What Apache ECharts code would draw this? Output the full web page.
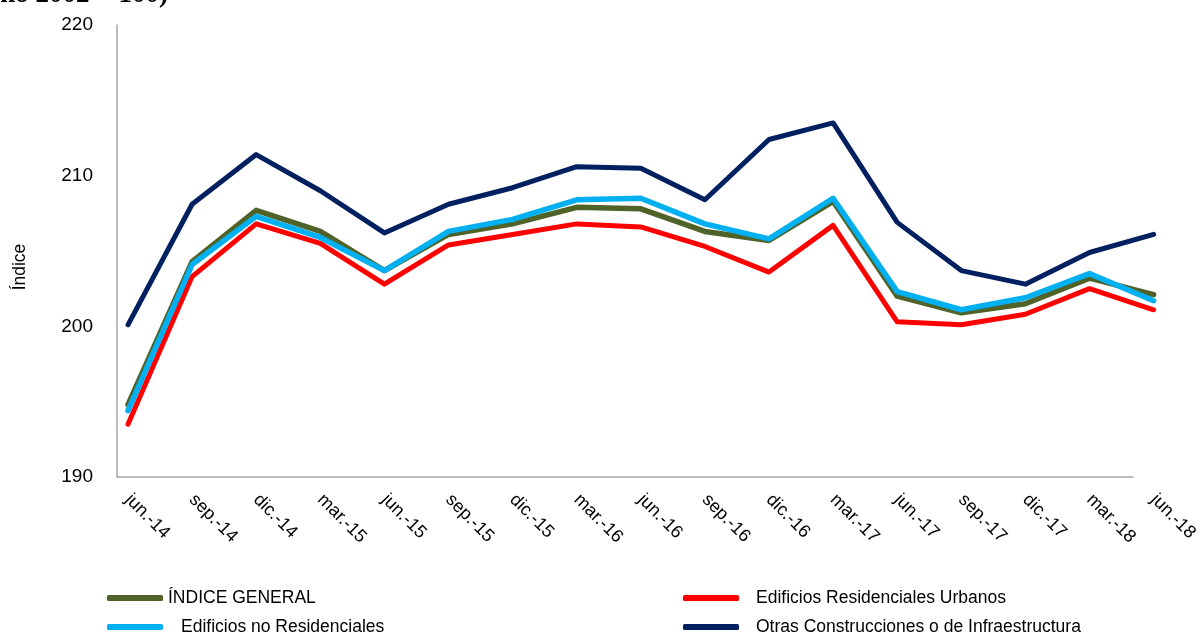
<!DOCTYPE html>
<html>
<head>
<meta charset="utf-8">
<script src="https://cdn.jsdelivr.net/npm/echarts@6/dist/echarts.min.js"></script>
<style>
html,body{margin:0;padding:0;background:#fff;}
#chart{width:1201px;height:635px;}
</style>
</head>
<body>
<div id="chart"></div>
<script>
const categories = ['jun.-14','sep.-14','dic.-14','mar.-15','jun.-15','sep.-15','dic.-15','mar.-16','jun.-16','sep.-16','dic.-16','mar.-17','jun.-17','sep.-17','dic.-17','mar.-18','jun.-18'];
const indiceGeneral = [194.8,204.3,207.7,206.3,203.7,206.1,206.8,207.9,207.8,206.3,205.7,208.3,202.0,200.9,201.5,203.2,202.1];
const residencialesUrbanos = [193.5,203.3,206.8,205.5,202.8,205.4,206.1,206.8,206.6,205.3,203.6,206.7,200.3,200.1,200.8,202.5,201.1];
const noResidenciales = [194.4,204.1,207.3,205.9,203.7,206.3,207.1,208.4,208.5,206.8,205.8,208.5,202.3,201.1,201.9,203.5,201.7];
const otrasConstrucciones = [200.1,208.1,211.4,209.0,206.2,208.1,209.2,210.6,210.5,208.4,212.4,213.5,206.9,203.7,202.8,204.9,206.1];
const seriesNames = ['ÍNDICE GENERAL','Edificios Residenciales Urbanos','Edificios no Residenciales','Otras Construcciones o de Infraestructura'];
const yMin = 190, yMax = 220, yStep = 10;

const font = '"Liberation Sans", Arial, sans-serif';
const chart = echarts.init(document.getElementById('chart'));

function mkSeries(name, data, color, width, z) {
  return {
    name: name, type: 'line', data: data, xAxisIndex: 1, yAxisIndex: 1,
    symbol: 'none', z: z, clip: false,
    lineStyle: {color: color, width: width, cap: 'round', join: 'round'},
    itemStyle: {color: color}
  };
}
function mkLegend(name, left, top, pad) {
  return {
    data: [name], left: left, top: top, orient: 'horizontal',
    icon: 'roundRect', itemWidth: 56, itemHeight: 6, selectedMode: false,
    textStyle: {fontFamily: font, fontSize: 17.5, color: '#000', padding: [0,0,0,pad]}
  };
}

chart.setOption({
  animation: false,
  backgroundColor: '#fff',
  grid: [
    {left: 117, right: 68, top: 25, bottom: 158},
    {left: 128, right: 43, top: 25, bottom: 158}
  ],
  xAxis: [
    {gridIndex: 0, type: 'category', data: categories, boundaryGap: false,
     axisLine: {lineStyle: {color: '#A6A6A6', width: 1.5}}, axisTick: {show: false}, axisLabel: {show: false}},
    {gridIndex: 1, type: 'category', data: categories, boundaryGap: false,
     axisLine: {show: false}, axisTick: {show: false},
     axisLabel: {rotate: -45, margin: 20, fontFamily: font, fontSize: 18, color: '#000', interval: 0}}
  ],
  yAxis: [
    {gridIndex: 0, type: 'value', min: yMin, max: yMax, interval: yStep,
     axisLine: {show: true, lineStyle: {color: '#A6A6A6', width: 1.5}}, axisTick: {show: false},
     splitLine: {show: false},
     axisLabel: {margin: 24, fontFamily: font, fontSize: 19, color: '#000'}},
    {gridIndex: 1, type: 'value', min: yMin, max: yMax, interval: yStep, show: false, splitLine: {show: false}}
  ],
  legend: [
    mkLegend(seriesNames[0], 102, 584, 0),
    mkLegend(seriesNames[2], 102, 613, 13),
    mkLegend(seriesNames[1], 678, 584, 12),
    mkLegend(seriesNames[3], 678, 613, 12)
  ],
  graphic: [
    {type: 'text', x: 20, y: 267, rotation: Math.PI/2,
     style: {text: 'Índice', fontFamily: font, fontSize: 17.5, fill: '#000', textAlign: 'center', textVerticalAlign: 'middle'}},
    {type: 'text', x: 168, y: 9,
     style: {text: '(Índice base año 2002 = 100)', fontFamily: '"Liberation Serif", "Times New Roman", serif', fontSize: 27, fontWeight: 'bold', fill: '#000', textAlign: 'right', textVerticalAlign: 'bottom'}}
  ],
  series: [
    mkSeries(seriesNames[3], otrasConstrucciones, '#002060', 5, 2),
    mkSeries(seriesNames[1], residencialesUrbanos, '#FF0000', 5, 3),
    mkSeries(seriesNames[0], indiceGeneral, '#4F6228', 5.5, 4),
    mkSeries(seriesNames[2], noResidenciales, '#00B0F0', 5.5, 5)
  ]
});
</script>
</body>
</html>
